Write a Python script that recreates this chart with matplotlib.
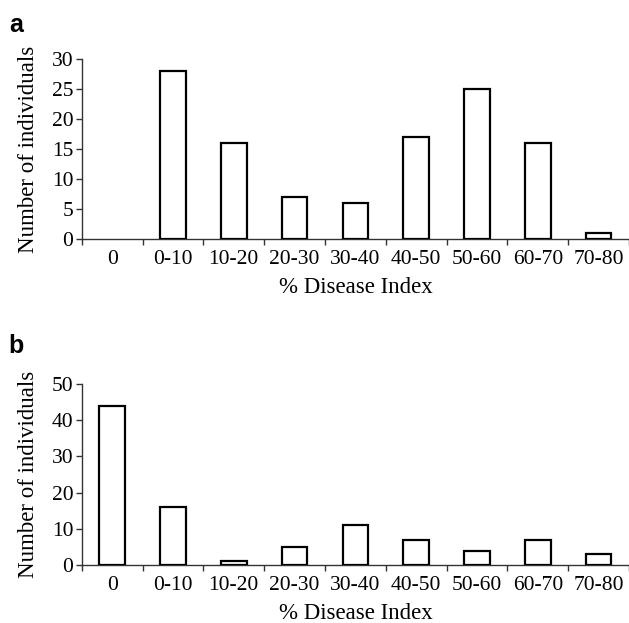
import matplotlib.pyplot as plt
import numpy as np

# Data
categories = ['0', '0-10', '10-20', '20-30', '30-40', '40-50', '50-60', '60-70', '70-80']
counts_a = [0, 28, 16, 7, 6, 17, 25, 16, 1]
counts_b = [44, 16, 1, 5, 11, 7, 4, 7, 3]

plt.rcParams['font.family'] = 'Liberation Serif'
plt.rcParams['font.size'] = 15.5

fig = plt.figure(figsize=(6.29, 6.23), dpi=100)
ax_a = fig.add_axes([0.130, 0.6164, 0.870, 0.289])
ax_b = fig.add_axes([0.130, 0.0931, 0.870, 0.2905])

x = np.arange(len(categories))


def draw_panel(ax, counts, ymax, ystep, letter, letter_y):
    # empty classes get no outline, as in the original
    edges = ['black' if c > 0 else 'none' for c in counts]
    ax.bar(x, counts, width=0.42, color='white', edgecolor=edges, linewidth=1.6, zorder=3)
    ax.set_xlim(-0.5, len(categories) - 0.5)
    ax.set_ylim(0, ymax)
    ax.set_yticks(np.arange(0, ymax + 1, ystep))
    # tick marks between categories, labels at centres
    ax.set_xticks(np.arange(-0.5, len(categories)), labels=[])
    ax.set_xticks(x, labels=categories, minor=True)
    ax.tick_params(axis='x', which='major', direction='out', length=4, width=1, color='#333333')
    ax.tick_params(axis='x', which='minor', length=0, pad=8)
    ax.tick_params(axis='y', direction='out', length=4, width=1, color='#333333', pad=2)
    for s in ['top', 'right']:
        ax.spines[s].set_visible(False)
    for s in ['left', 'bottom']:
        ax.spines[s].set_color('#333333')
        ax.spines[s].set_linewidth(1.0)
    ax.set_xlabel('% Disease Index', fontsize=16.5, labelpad=6)
    ax.set_ylabel('Number of individuals', fontsize=16.5)
    ax.yaxis.set_label_coords(-0.078, 0.5)
    fig.text(0.014, letter_y, letter, fontsize=18, fontweight='bold',
             family='Liberation Sans', va='baseline', ha='left')


draw_panel(ax_a, counts_a, 30, 5, 'a', 1 - 32 / 623)
draw_panel(ax_b, counts_b, 50, 10, 'b', 1 - 353 / 623)

fig.savefig('out.png', dpi=100)
